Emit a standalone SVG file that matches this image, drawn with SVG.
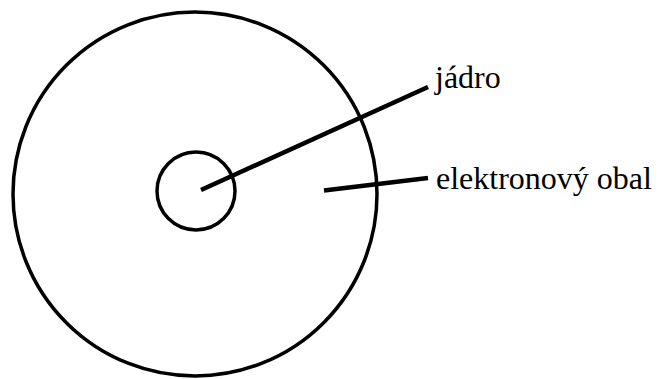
<svg xmlns="http://www.w3.org/2000/svg" width="659" height="379" viewBox="0 0 659 379">
<style>
.c{fill:none;stroke:#000;stroke-width:3.5}
.l{stroke:#000;stroke-width:4.5;stroke-linecap:butt}
.t{font-family:"Liberation Serif","Times New Roman",serif;font-size:32px;fill:#000}
</style>
<rect width="659" height="379" fill="#fff"/>
<g id="obal"><circle class="c" cx="195" cy="194" r="182"/></g>
<g id="jadro"><circle class="c" cx="196" cy="191" r="39"/></g>
<g id="connectors">
<line class="l" x1="201" y1="190" x2="428" y2="87"/>
<line class="l" x1="324" y1="190.5" x2="428" y2="178"/>
</g>
<g id="label-jadro"><text class="t" x="435" y="88">jádro</text></g>
<g id="label-obal"><text class="t" x="436" y="189">elektronový obal</text></g>
</svg>
